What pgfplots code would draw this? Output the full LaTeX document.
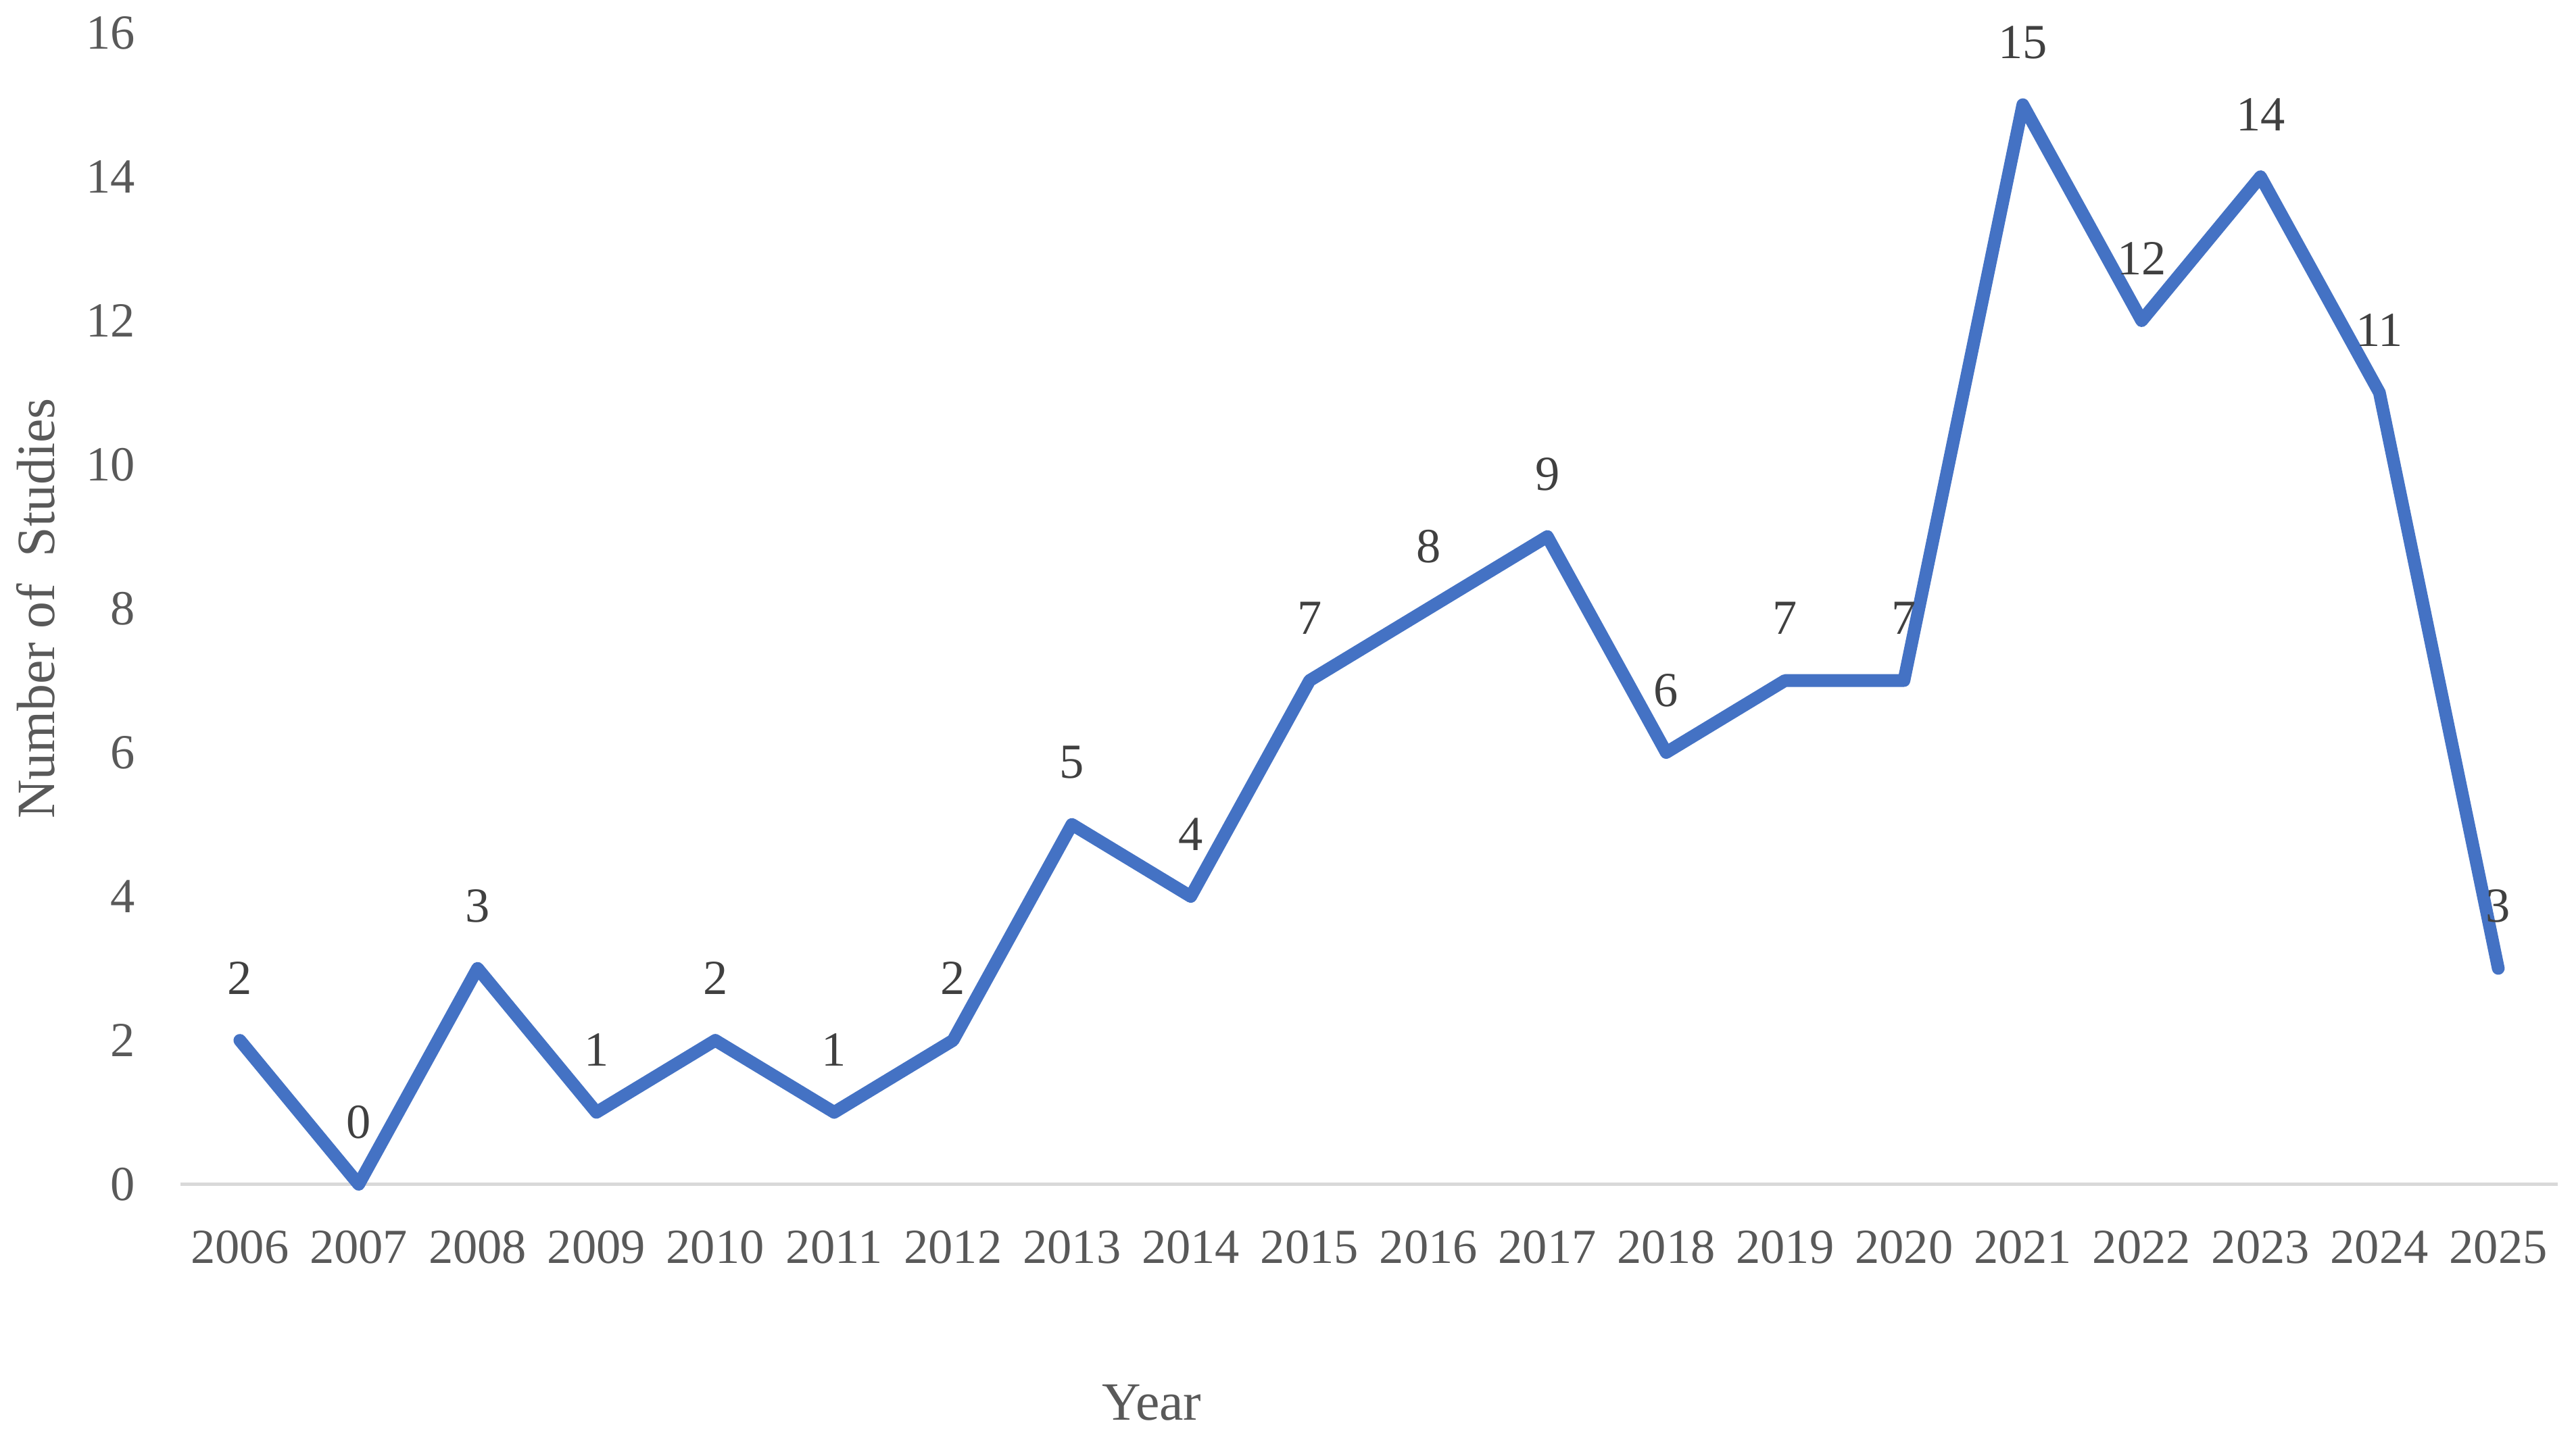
\documentclass[border=0pt]{standalone}
\usepackage{pgfplots}
\pgfplotsset{compat=1.18}
\usepackage{fontspec}
\setmainfont{Liberation Serif}

\definecolor{lineblue}{HTML}{4472C4}
\definecolor{axisgray}{HTML}{D9D9D9}
\definecolor{ticktext}{HTML}{595959}
\definecolor{labeltext}{HTML}{404040}

\begin{document}
\begin{tikzpicture}
\begin{axis}[
  scale only axis,
  width=485pt, height=235pt,
  xmin=-0.5, xmax=19.5, ymin=0, ymax=16,
  clip=false,
  axis lines*=left,
  x axis line style={draw=axisgray, line width=0.7pt},
  y axis line style={draw=none},
  major tick length=0pt,
  xtick={0,...,19},
  xticklabels={2006,2007,2008,2009,2010,2011,2012,2013,2014,2015,2016,2017,2018,2019,2020,2021,2022,2023,2024,2025},
  ytick={0,2,...,16},
  /pgf/number format/assume math mode=true,
  tick label style={font=\fontsize{10}{12}\selectfont, text=ticktext},
  xticklabel style={yshift=-6pt},
  yticklabel style={xshift=-5.7pt},
  xlabel={Year},
  ylabel={Number of\ \ Studies},
  label style={font=\fontsize{11}{13}\selectfont, text=ticktext},
  xlabel style={at={(axis description cs:0.4086,-0.1897)}, anchor=center},
  ylabel style={at={(axis description cs:-0.0608,0.5)}, anchor=center},
  nodes near coords,
  every node near coord/.append style={font=\fontsize{10}{12}\selectfont, text=labeltext, anchor=center, yshift=12.7pt},
]
\addplot[color=lineblue, line width=2.6pt, line join=round, line cap=round, mark=none] coordinates {
 (0,2)(1,0)(2,3)(3,1)(4,2)(5,1)(6,2)(7,5)(8,4)(9,7)
 (10,8)(11,9)(12,6)(13,7)(14,7)(15,15)(16,12)(17,14)(18,11)(19,3)
};
\path (rel axis cs:-0.0759,-0.2237) rectangle (rel axis cs:1.0077,1.0276);
\end{axis}
\end{tikzpicture}
\end{document}
